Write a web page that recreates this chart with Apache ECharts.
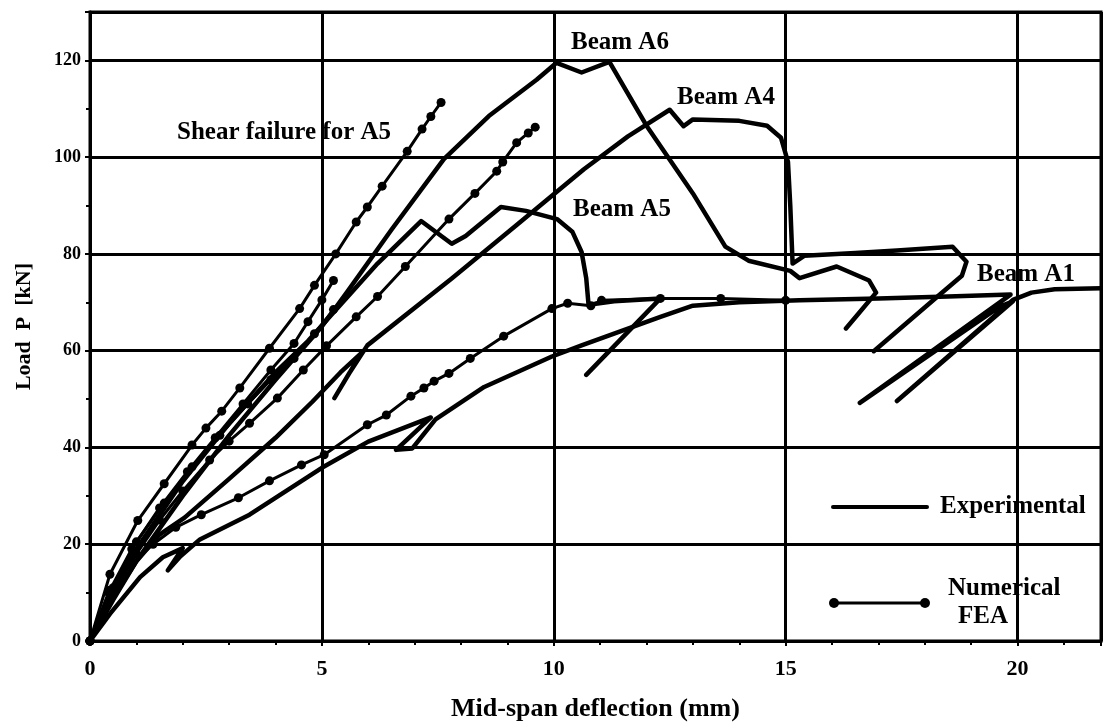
<!DOCTYPE html>
<html>
<head>
<meta charset="utf-8">
<script src="https://cdn.jsdelivr.net/npm/echarts@6/dist/echarts.min.js"></script>
<style>
html,body{margin:0;padding:0;background:#fff;}
#chart{width:1103px;height:727px;}
</style>
</head>
<body>
<div id="chart"></div>
<script>
// ---- Data (x = mid-span deflection mm, y = load kN) ----
var xTicks = [0, 5, 10, 15, 20];
var yTicks = [0, 20, 40, 60, 80, 100, 120];

// Experimental curves
var expA6 = [[0,0],[0.5,8.5],[1,16.5],[2,30],[3,42.5],[4,54],[5,65],[5.55,72.2],[6.5,85],[7.63,99.6],[8.6,108.5],[9.63,116],[10.06,119.5],[10.6,117.5],[11.2,119.7],[12,106.5],[13,92.5],[13.7,81.5],[14.2,78.6],[15.1,76.5],[15.3,75],[16.1,77.4],[16.8,74.5],[16.95,72],[16.6,68],[16.3,64.6]];
var expA4 = [[0,0],[0.5,9],[1,16.5],[1.5,22],[2.04,25.5],[3,33.5],[4,42],[4.8,49.5],[5.4,55.5],[5.85,59.5],[5.27,50.2],[5.6,55.5],[5.98,61.1],[7.8,74.9],[9.2,86],[10.65,97.5],[11.6,104.3],[12.5,109.8],[12.8,106.4],[13,107.8],[14,107.5],[14.6,106.5],[14.9,104],[15.05,99],[15.1,90],[15.15,78],[15.4,79.6],[16.5,80.2],[17.4,80.7],[18.6,81.5],[18.9,78.4],[18.8,75.5],[18.3,71.4],[16.9,59.9]];
var expA5 = [[0,0],[0.5,10],[1,19],[2,33],[3,45],[4,55.5],[4.7,62],[5.27,68.1],[6.2,78],[7.14,86.8],[7.8,82.1],[8.1,83.7],[8.86,89.7],[9.4,88.9],[10.07,87.2],[10.4,84.6],[10.6,80.4],[10.7,75],[10.75,69.5],[11.3,70.2],[12.3,70.8],[10.7,55]];
var expA1 = [[0,0],[0.43,5.6],[1.08,13.2],[1.57,17.3],[2.0,19.2],[1.68,14.6],[1.95,17.5],[2.37,21],[3.44,26.1],[5,35.8],[6,41.2],[7.35,46.2],[6.6,39.5],[6.95,39.8],[7.45,45.8],[8.5,52.5],[9.96,58.8],[10.6,61.1],[12.3,67],[13,69.3],[14,70],[15.3,70.4],[17,70.8],[18.5,71.2],[19.85,71.6],[16.6,49.2],[19.6,69],[19.9,70.2],[17.4,49.6],[19.9,70.5],[20.3,72],[20.8,72.7],[21.8,72.9]];

// Numerical FEA curves
var feaShearA5 = [[0,0],[0.43,13.8],[1.03,24.9],[1.6,32.5],[2.2,40.5],[2.5,44],[2.84,47.5],[3.23,52.3],[3.87,60.5],[4.52,68.7],[4.84,73.5],[5.3,80],[5.74,86.6],[5.98,89.7],[6.3,94],[6.84,101.2],[7.16,105.8],[7.35,108.4],[7.57,111.3]];
var feaA4 = [[0,0],[0.5,10],[1,18],[1.5,25],[2,31],[2.58,37.4],[3.0,41.3],[3.44,45],[4.04,50.2],[4.6,56],[5.1,61],[5.74,67],[6.2,71.2],[6.8,77.4],[7.74,87.2],[8.3,92.5],[8.77,97.1],[8.9,99],[9.2,103],[9.45,105],[9.6,106.2]];
var feaA1 = [[0,0],[0.43,10.5],[0.9,16],[1.36,20],[1.85,23.5],[2.4,26.1],[3.2,29.6],[3.87,33.1],[4.56,36.4],[5.05,38.5],[5.98,44.7],[6.39,46.7],[6.92,50.6],[7.2,52.3],[7.42,53.7],[7.74,55.3],[8.2,58.4],[8.92,63],[9.96,68.7],[10.3,69.8],[10.8,69.3],[11.03,70.4],[12.3,70.8],[13.6,70.8],[15,70.4]];
var feaX1 = [[0,0],[0.4,10],[0.9,19],[1.5,27.5],[2.1,35],[2.7,42],[3.3,49],[3.9,56],[4.4,61.5],[4.7,66],[5.0,70.5],[5.25,74.5]];
var feaX2 = [[0,0],[0.5,11],[1,20.5],[1.6,28.5],[2.2,36],[2.8,42.5],[3.4,49],[3.9,54],[4.4,58.4],[4.84,63.5],[5.25,68.5]];

var expSeries = [expA6, expA4, expA5, expA1];
var feaSeries = [feaShearA5, feaA4, feaA1, feaX1, feaX2];

var FONT = "'Liberation Serif', 'Times New Roman', serif";

var series = [];
expSeries.forEach(function (d) {
  series.push({
    type: 'line', data: d, symbol: 'none', smooth: false,
    lineStyle: { color: '#000', width: 4.5, cap: 'round', join: 'round' },
    z: 3
  });
});
feaSeries.forEach(function (d) {
  series.push({
    type: 'line', data: d, symbol: 'circle', symbolSize: 9, showAllSymbol: true,
    itemStyle: { color: '#000' },
    lineStyle: { color: '#000', width: 3, cap: 'round', join: 'round' },
    z: 4
  });
});

var chart = echarts.init(document.getElementById('chart'), null, { renderer: 'canvas' });

function txt(s, x, y, size) {
  return { type: 'text', x: x, y: y, z: 10,
    style: { text: s, fill: '#000', font: 'bold ' + (size || 25) + 'px ' + FONT, textVerticalAlign: 'middle' } };
}

var option = {
  animation: false,
  backgroundColor: '#fff',
  grid: { left: 90, right: 2, top: 12, bottom: 83, show: true, borderColor: '#000', borderWidth: 3, backgroundColor: 'transparent' },
  xAxis: {
    type: 'value', min: 0, max: 21.8, interval: 5,
    name: 'Mid-span deflection (mm)', nameLocation: 'middle', nameGap: 55,
    nameTextStyle: { color: '#000', fontFamily: FONT, fontWeight: 'bold', fontSize: 26 },
    axisLine: { show: true, lineStyle: { color: '#000', width: 3 } },
    axisTick: { show: true, length: 5, lineStyle: { color: '#000', width: 2 } },
    minorTick: { show: true, splitNumber: 5, length: 4, lineStyle: { color: '#000', width: 2 } },
    axisLabel: { show: true, showMaxLabel: false, margin: 17, color: '#000', fontFamily: FONT, fontWeight: 'bold', fontSize: 22,
      formatter: function (v) { return xTicks.indexOf(v) >= 0 ? String(v) : ''; } },
    splitLine: { show: true, lineStyle: { color: '#000', width: 3 } }
  },
  yAxis: {
    type: 'value', min: 0, max: 130, interval: 20,
    name: 'Load  P  [kN]', nameLocation: 'middle', nameGap: 55,
    nameTextStyle: { color: '#000', fontFamily: FONT, fontWeight: 'bold', fontSize: 22 },
    axisLine: { show: true, lineStyle: { color: '#000', width: 3 } },
    axisTick: { show: true, length: 5, lineStyle: { color: '#000', width: 2 } },
    minorTick: { show: true, splitNumber: 2, length: 4, lineStyle: { color: '#000', width: 2 } },
    axisLabel: { show: true, showMaxLabel: false, margin: 9, color: '#000', fontFamily: FONT, fontWeight: 'bold', fontSize: 18,
      formatter: function (v) { return yTicks.indexOf(v) >= 0 ? String(v) : ''; } },
    splitLine: { show: true, lineStyle: { color: '#000', width: 3 } }
  },
  series: series,
  graphic: [
    txt('Beam A6', 571, 43),
    txt('Beam A4', 677, 98),
    txt('Beam A5', 573, 210),
    txt('Beam A1', 977, 275),
    txt('Shear failure for A5', 177, 133),
    { type: 'line', z: 10, shape: { x1: 833, y1: 507, x2: 927, y2: 507 }, style: { stroke: '#000', lineWidth: 4, lineCap: 'round' } },
    txt('Experimental', 940, 507),
    { type: 'line', z: 10, shape: { x1: 834, y1: 603, x2: 925, y2: 603 }, style: { stroke: '#000', lineWidth: 3 } },
    { type: 'circle', z: 10, shape: { cx: 834, cy: 603, r: 5 }, style: { fill: '#000' } },
    { type: 'circle', z: 10, shape: { cx: 925, cy: 603, r: 5 }, style: { fill: '#000' } },
    txt('Numerical', 948, 589),
    txt('FEA', 958, 617)
  ]
};
chart.setOption(option);
</script>
</body>
</html>
